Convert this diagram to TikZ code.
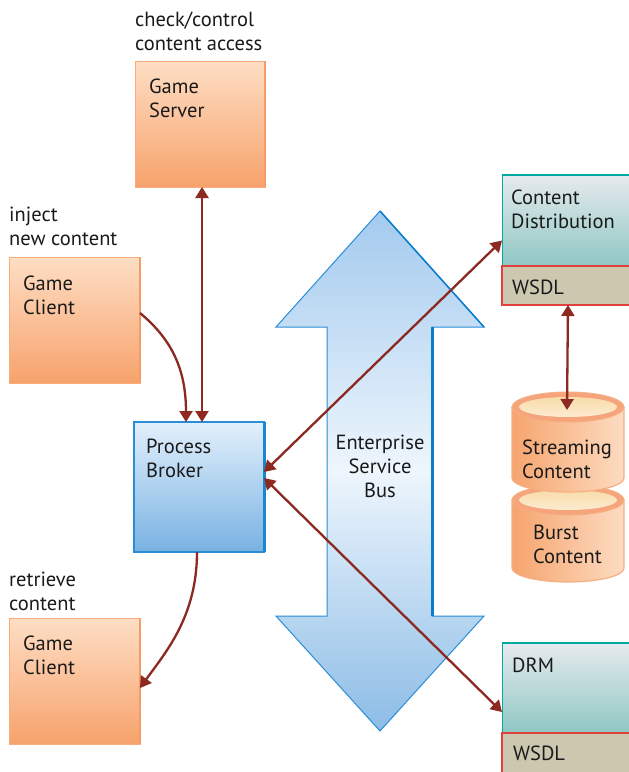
\documentclass[tikz,border=0pt]{standalone}
\usepackage{fontspec}
\setmainfont{PT Sans}
\usetikzlibrary{arrows.meta}
\definecolor{otop}{HTML}{FEDEC4}
\definecolor{obot}{HTML}{F7A26C}
\definecolor{oborder}{HTML}{F9AC7C}
\definecolor{oedge}{HTML}{F59C64}
\definecolor{btop}{HTML}{E3F0FC}
\definecolor{bbot}{HTML}{78B2E2}
\definecolor{bborder}{HTML}{2A8DD6}
\definecolor{bedge}{HTML}{1A86D0}
\definecolor{ttop}{HTML}{E6EAEE}
\definecolor{tbot}{HTML}{8FC7C3}
\definecolor{tborder}{HTML}{00A99D}
\definecolor{wfill}{HTML}{CCC8B0}
\definecolor{wborder}{HTML}{E0413F}
\definecolor{esbtop}{HTML}{A3CAEE}
\definecolor{esbmid}{HTML}{EEF6FD}
\definecolor{esbbot}{HTML}{8CBCE6}
\definecolor{esbborder}{HTML}{2A8DD6}
\definecolor{esbedge}{HTML}{0A7DCB}
\definecolor{linkred}{HTML}{8C2A22}
\definecolor{txtcol}{HTML}{1A1A1A}
\definecolor{cylL}{HTML}{F6A46E}
\definecolor{cylR}{HTML}{FDDCC2}
\definecolor{cylB}{HTML}{F6AE82}
\definecolor{cylRing}{HTML}{F5A47C}
\definecolor{cylInT}{HTML}{F8DCAA}
\definecolor{cylInB}{HTML}{FCEBD0}
\newcommand{\mycylinder}[3]{%
  \shade[left color=cylL, right color=cylR, draw=cylB, line width=1.2pt]
    (#1-56,#2) -- (#1-56,#3) arc[start angle=180, end angle=360, x radius=56pt, y radius=14pt]
    -- (#1+56,#2) -- cycle;
  \filldraw[fill=cylRing, draw=cylB, line width=1pt] (#1,#2) ellipse [x radius=56pt, y radius=15pt];
  \shade[top color=cylInT, bottom color=cylInB] (#1,#2) ellipse [x radius=49pt, y radius=10pt];
}
\begin{document}
\begin{tikzpicture}[x=1pt,y=-1pt,
  box/.style={rectangle, inner sep=0pt, outer sep=0pt, anchor=north west},
  obox/.style={box, draw=oborder, line width=1pt, top color=otop, bottom color=obot},
  bbox/.style={box, draw=bborder, line width=1.6pt, top color=btop, bottom color=bbot},
  tbox/.style={box, draw=tborder, line width=1pt, top color=ttop, bottom color=tbot},
  wbox/.style={box, draw=wborder, line width=1.3pt, fill=wfill},
  txt/.style={font=\fontsize{20.5}{24}\selectfont, text=txtcol, inner sep=0pt, anchor=base west, align=left},
  tip/.tip={Triangle[length=11pt,width=13pt]},
  link/.style={draw=linkred, line width=2.3pt, -tip},
  dlink/.style={draw=linkred, line width=2.3pt, tip-tip}
]
\useasboundingbox (0,0) rectangle (629,772);
\clip (0,0) rectangle (629,772);
\fill[white] (0,0) rectangle (629,772);

% Enterprise Service Bus arrow
\shade[top color=esbtop, bottom color=esbbot, middle color=esbmid, draw=esbborder, line width=1pt]
  (380,211) -- (484,327) -- (432,327) -- (432,616) -- (484,616) -- (380,731)
  -- (276,616) -- (327,616) -- (327,327) -- (276,327) -- cycle;
\draw[esbedge, line width=3pt] (432,327) -- (432,616);
\draw[esbedge, line width=1.5pt] (380,211) -- (484,327);
\node[txt, anchor=base, align=center] (esb) at (380,497) {Enterprise\\Service\\Bus};

% boxes
\node[obox, minimum width=130pt, minimum height=126pt] (gs) at (135,61) {};
\draw[oedge, line width=2.5pt] (gs.north east) -- (gs.south east);
\node[obox, minimum width=131pt, minimum height=126pt] (gc1) at (9,257) {};
\draw[oedge, line width=2.5pt] (gc1.north east) -- (gc1.south east);
\node[bbox, minimum width=130pt, minimum height=130pt] (pb) at (134,422) {};
\draw[bedge, line width=3pt] (pb.north east) -- (pb.south east);
\node[obox, minimum width=131pt, minimum height=126pt] (gc2) at (9,618) {};
\draw[oedge, line width=2.5pt] (gc2.north east) -- (gc2.south east);

\node[tbox, minimum width=132pt, minimum height=91pt] (cd) at (502,175) {};
\draw[tborder, line width=2.5pt] (cd.north west) -- (cd.north east);
\node[wbox, minimum width=132pt, minimum height=39pt] (wsdl1) at (502,266) {};
\node[tbox, minimum width=132pt, minimum height=90pt] (drm) at (502,643) {};
\draw[tborder, line width=2.5pt] (drm.north west) -- (drm.north east);
\node[wbox, minimum width=132pt, minimum height=40pt] (wsdl2) at (502,733) {};

% cylinders
\mycylinder{568}{500}{568}
\mycylinder{568}{407}{478}
\coordinate (sttop) at (567,410);

% texts
\node[txt] (t1) at (135,50) {check/control\\content access};
\node[txt] (t2) at (149,117) {Game\\Server};
\node[txt] (t3) at (9,245) {inject\\new content};
\node[txt] (t4) at (23,314) {Game\\Client};
\node[txt] (t5) at (146,477) {Process\\Broker};
\node[txt] (t6) at (9,610) {retrieve\\content};
\node[txt] (t7) at (23,674) {Game\\Client};
\node[txt] (t8) at (511,228) {Content\\Distribution};
\node[txt] (t9) at (512,294) {WSDL};
\node[txt] (t10) at (522,478) {Streaming\\Content};
\node[txt] (t11) at (533,563) {Burst\\Content};
\node[txt] (t12) at (512,672) {DRM};
\node[txt] (t13) at (513,760) {WSDL};

% connectors
\draw[dlink] ([xshift=2pt]gs.south) -- ([xshift=3pt]pb.north);
\draw[link] ([yshift=7pt]gc1.east) .. controls +(30,25) and +(0,-55) .. ([xshift=-13pt]pb.north);
\draw[link] ([xshift=-2pt]pb.south) .. controls +(0,65) and +(25,-35) .. ([yshift=-7pt]gc2.east);
\draw[dlink] ([yshift=-20pt]cd.west) -- ([yshift=15pt]pb.east);
\draw[dlink] ([yshift=9pt]pb.east) -- ([yshift=-24pt]drm.west);
\draw[dlink] (wsdl1.south) -- (sttop);
\end{tikzpicture}
\end{document}
